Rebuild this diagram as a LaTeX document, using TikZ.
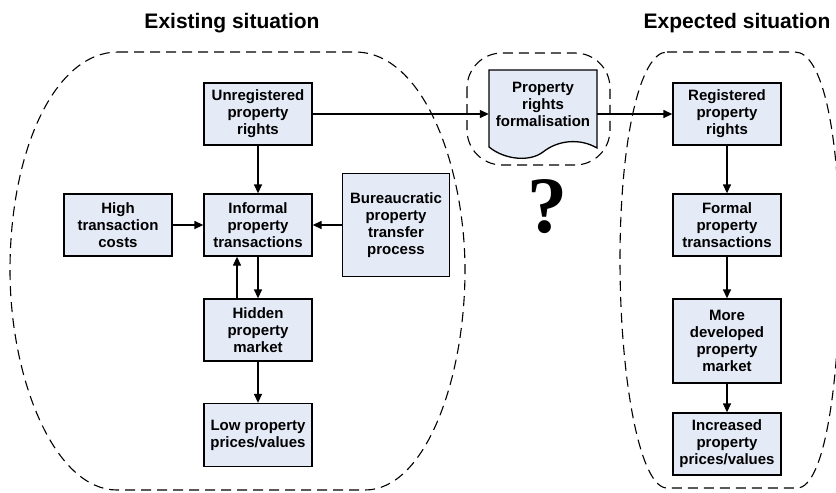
\documentclass[tikz,border=0pt]{standalone}
\usepackage{fontspec}
\setmainfont{Liberation Sans}
\newfontfamily\qfont{Liberation Serif}
\usetikzlibrary{arrows.meta}
\definecolor{boxblue}{RGB}{228,234,246}
\tikzset{
  box/.style={draw, line width=1.3pt, fill=boxblue, minimum width=108pt, minimum height=62pt,
    align=center, inner sep=2pt, font=\bfseries\fontsize{15}{17}\selectfont},
  flow/.style={line width=1.3pt, -{Triangle[length=9pt, width=8pt]}},
  zone/.style={line width=1.1pt, dash pattern=on 10pt off 6pt},
  heading/.style={anchor=base, font=\bfseries\fontsize{21}{24}\selectfont}
}
\begin{document}
\begin{tikzpicture}[x=1pt, y=-1pt]
    \useasboundingbox (0, 0) rectangle (836, 493) ;
    \draw[zone] (118, 52) -- (355, 52) .. controls (425, 52) and (465, 170) .. (465, 270) .. controls (465, 380) and (425, 490) .. (365, 490) -- (117, 490) .. controls (55, 490) and (10, 380) .. (10, 270) .. controls (10, 150) and (55, 52) .. (118, 52) -- cycle ;
    \draw[zone, rounded corners=35pt] (467, 53) rectangle (610, 165) ;
    \draw[zone] (667, 52) -- (795, 52) .. controls (822, 52) and (840, 130) .. (840, 260) .. controls (840, 380) and (825, 488) .. (797, 488) -- (667, 488) .. controls (640, 488) and (620, 380) .. (620, 260) .. controls (620, 140) and (640, 52) .. (667, 52) -- cycle ;
    \node (existing) [heading] at (232, 28) {Existing situation} ;
    \node (expected) [heading] at (737, 28) {Expected situation} ;
    \node (unreg) [box] at (258, 114) {Unregistered\\property\\rights} ;
    \node (hightc) [box] at (118, 225) {High\\transaction\\costs} ;
    \node (informal) [box] at (258, 225) {Informal\\property\\transactions} ;
    \node (bureau) [box, minimum width=107pt, minimum height=103pt] at (396, 225) {Bureaucratic\\property\\transfer\\process} ;
    \node (hidden) [box] at (258, 330) {Hidden\\property\\market} ;
    \node (lowprice) [box, minimum height=63pt] at (258, 435) {Low property\\prices/values} ;
    \draw[line width=1.3pt, fill=boxblue] (489, 70) -- (597, 70) -- (597, 148) .. controls (580, 138) and (558, 140) .. (543, 152) .. controls (530, 162) and (505, 160) .. (489, 147) -- cycle ;
    \node (formalise) [align=center, minimum width=108pt, inner sep=0pt, font=\bfseries\fontsize{15}{17}\selectfont] at (543, 104) {Property\\rights\\formalisation} ;
    \node (ask) [font=\qfont\bfseries\fontsize{80}{80}\selectfont] at (547, 207) {?} ;
    \node (registered) [box] at (727, 114) {Registered\\property\\rights} ;
    \node (formal) [box] at (727, 225) {Formal\\property\\transactions} ;
    \node (developed) [box, minimum height=84pt] at (727, 341) {More\\developed\\property\\market} ;
    \node (increased) [box] at (727, 444) {Increased\\property\\prices/values} ;
    \draw[flow] (unreg) -- (unreg -| formalise.west) ;
    \draw[flow] (registered -| formalise.east) -- (registered) ;
    \draw[flow] (unreg) -- (informal) ;
    \draw[flow] (hightc) -- (informal) ;
    \draw[flow] (bureau) -- (informal) ;
    \draw[flow] (informal) -- (hidden) ;
    \draw[flow] ([xshift=-21pt] hidden.north) -- ([xshift=-21pt] informal.south) ;
    \draw[flow] (hidden) -- (lowprice) ;
    \draw[flow] (registered) -- (formal) ;
    \draw[flow] (formal) -- (developed) ;
    \draw[flow] (developed) -- (increased) ;
  \end{tikzpicture}
\end{document}
